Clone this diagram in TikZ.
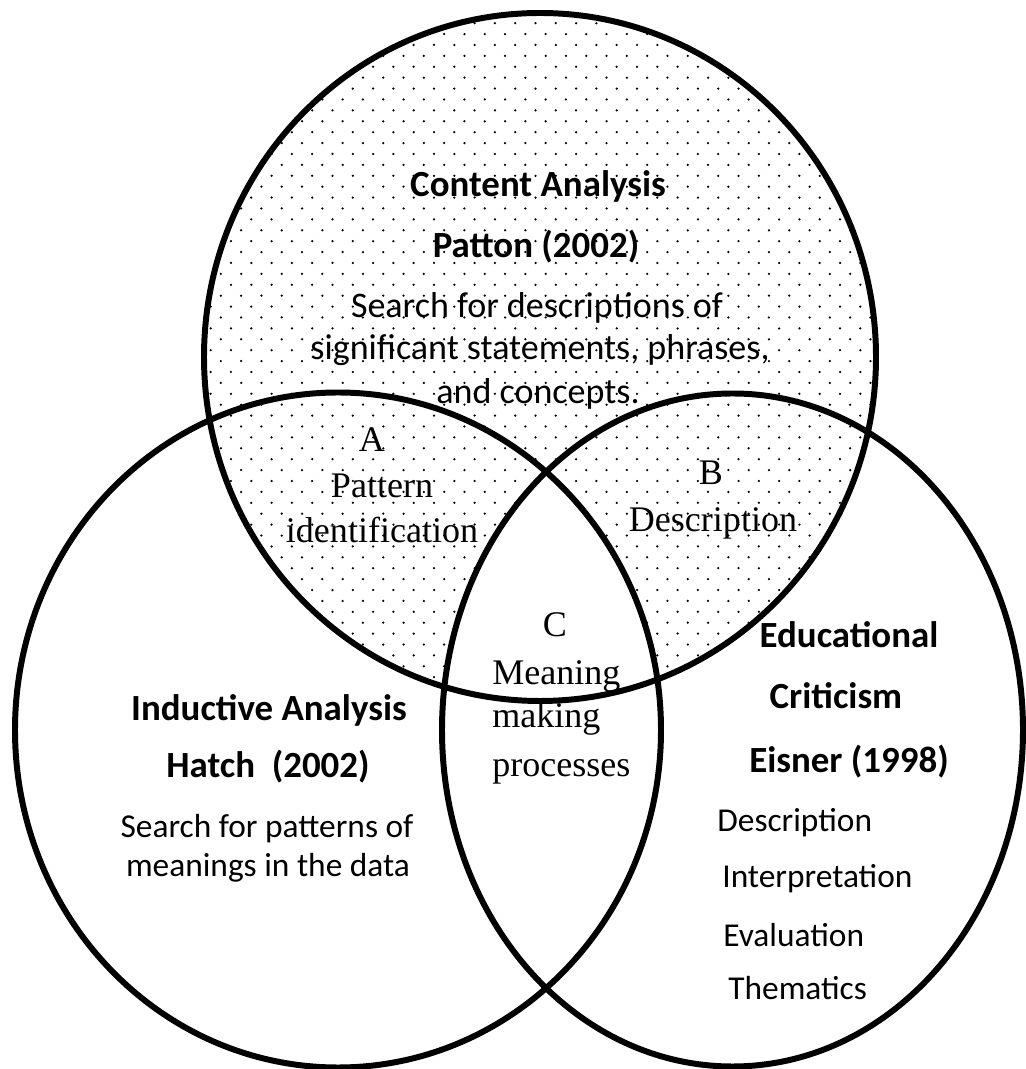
\documentclass[tikz,border=0pt]{standalone}
\usepackage{fontspec}
\setmainfont{Carlito}
\newfontfamily\timesfont{Liberation Serif}

\begin{document}
\begin{tikzpicture}[
    ring/.style={line width=3.4pt},
    headtext/.style={font=\fontsize{21}{25}\selectfont\bfseries, anchor=base, inner sep=0pt},
    toptext/.style={font=\fontsize{20.5}{24}\selectfont, anchor=base, inner sep=0pt},
    plaintext/.style={font=\fontsize{19}{23}\selectfont, anchor=base, inner sep=0pt},
    listtext/.style={plaintext, anchor=base west},
    zonetext/.style={font=\timesfont\fontsize{20.5}{24}\selectfont, anchor=base, inner sep=0pt}
]
    \useasboundingbox (0, 0) rectangle (20.52, 21.38);

    % Dotted fill of the upper circle
    \begin{scope}
        \clip (10.80, 14.24) ellipse (6.72cm and 6.88cm);
        \foreach \j in {0,...,66}
            \foreach \i in {-12,...,22}
                \fill ({8.68+0.406*\i+0.203*mod(\j,2)}, {21.352-0.218*\j}) circle (0.025);
        % centre region stays blank
        \clip (6.76, 6.78) ellipse (6.46cm and 6.75cm);
        \fill[white] (14.65, 6.78) ellipse (5.81cm and 6.73cm);
    \end{scope}

    % The three circles
    \draw[ring] (10.80, 14.24) ellipse (6.72cm and 6.88cm);
    \draw[ring] (6.76, 6.78) ellipse (6.46cm and 6.75cm);
    \draw[ring] (14.65, 6.78) ellipse (5.81cm and 6.73cm);

    % Upper circle
    \node[headtext] (content) at (10.76, 17.44) {Content Analysis};
    \node[headtext] (patton) at (10.72, 16.22) {Patton (2002)};
    \node[toptext] (search1) at (10.74, 15.02) {Search for descriptions of};
    \node[toptext] (search2) at (10.80, 14.18) {significant statements, phrases,};
    \node[toptext] (search3) at (10.76, 13.30) {and concepts.};

    % Left circle
    \node[headtext] (inductive) at (5.38, 6.96) {Inductive Analysis};
    \node[headtext] (hatch) at (5.36, 5.82) {Hatch\ \ (2002)};
    \node[plaintext] (patterns1) at (5.34, 4.62) {Search for patterns of};
    \node[plaintext] (patterns2) at (5.36, 3.84) {meanings in the data};

    % Right circle
    \node[headtext] (educational) at (16.98, 8.42) {Educational};
    \node[headtext] (criticism) at (16.72, 7.20) {Criticism};
    \node[headtext] (eisner) at (16.98, 5.92) {Eisner (1998)};
    \node[listtext] (descr) at (14.34, 4.74) {Description};
    \node[listtext] (interp) at (14.44, 3.62) {Interpretation};
    \node[listtext] (evalu) at (14.46, 2.44) {Evaluation};
    \node[listtext] (thema) at (14.56, 1.38) {Thematics};

    % Overlap regions
    \node[zonetext] (zoneA) at (7.44, 12.34) {A};
    \node[zonetext] (pattern) at (7.64, 11.42) {Pattern};
    \node[zonetext] (ident) at (7.64, 10.52) {identification};
    \node[zonetext] (zoneB) at (14.22, 11.68) {B};
    \node[zonetext] (descB) at (14.26, 10.74) {Description};
    \node[zonetext] (zoneC) at (11.10, 8.64) {C};
    \node[zonetext, anchor=base west] (meaning) at (9.84, 7.68) {Meaning};
    \node[zonetext, anchor=base west] (making) at (9.84, 6.82) {making};
    \node[zonetext, anchor=base west] (processes) at (9.84, 5.84) {processes};
\end{tikzpicture}
\end{document}
